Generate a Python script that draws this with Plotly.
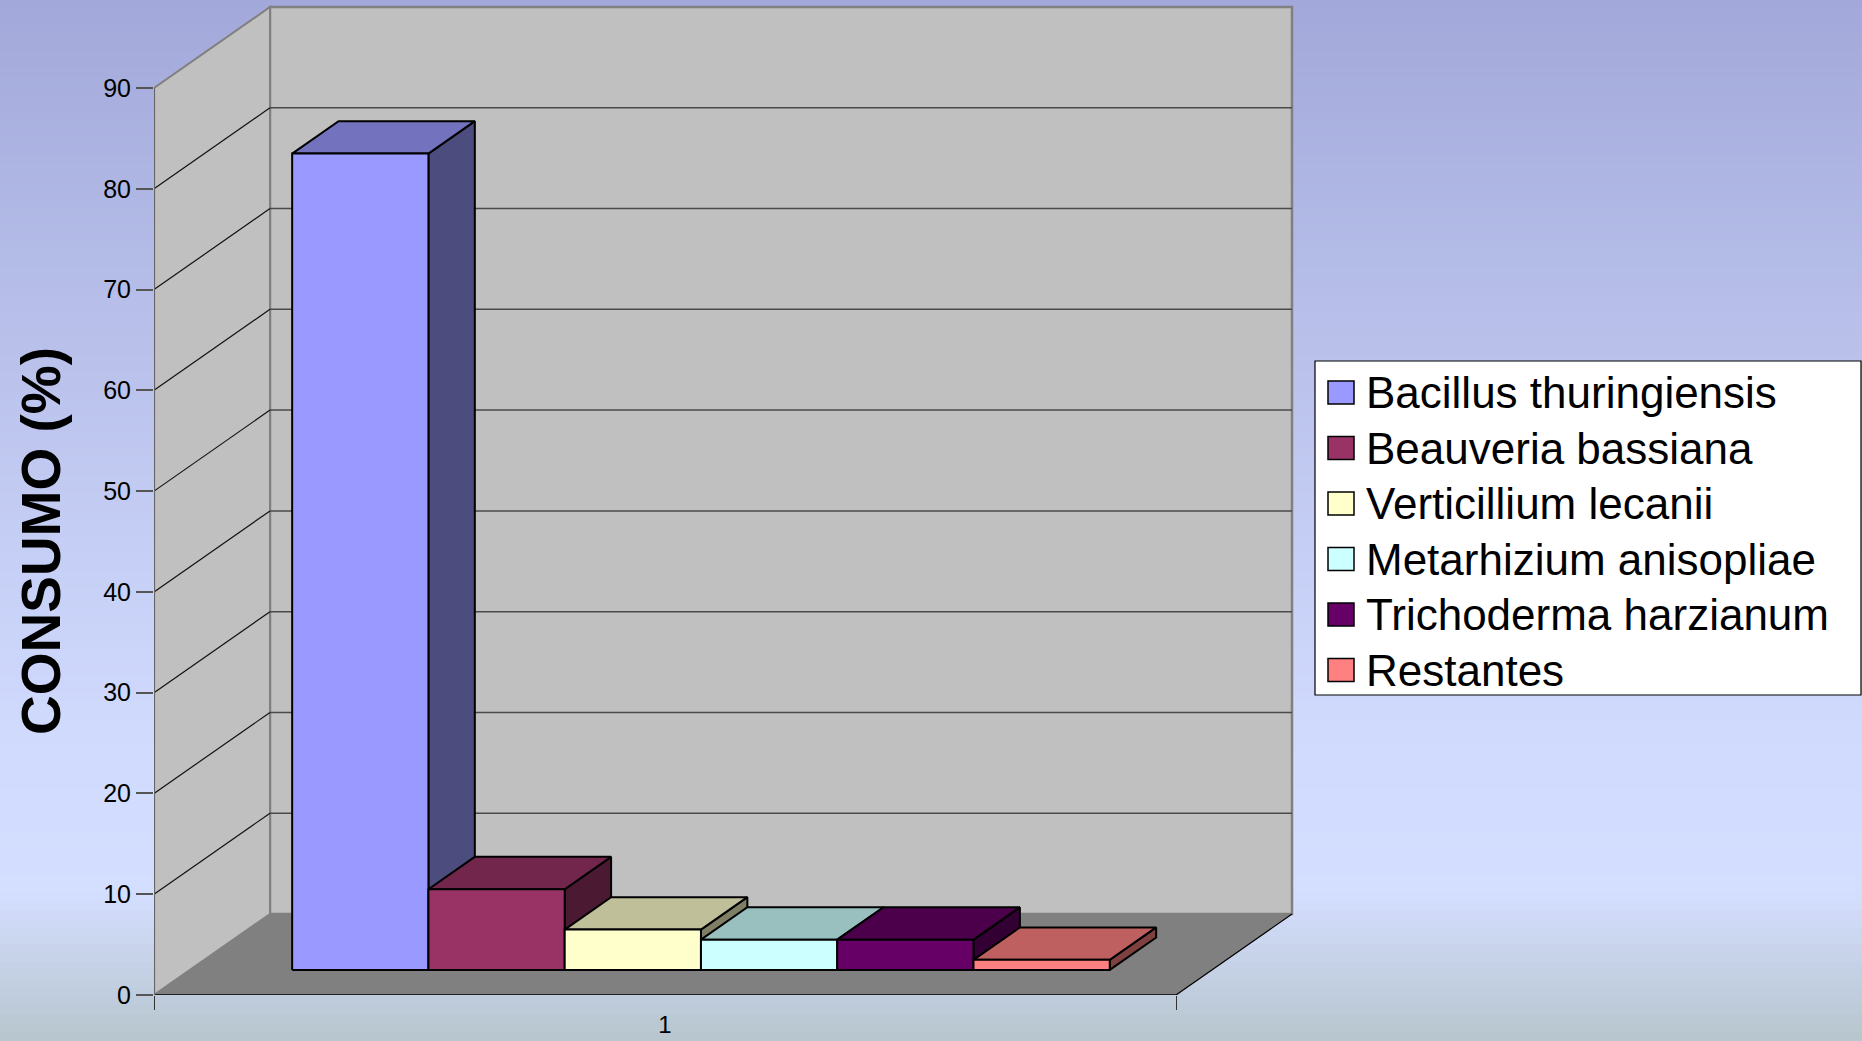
import plotly.graph_objects as go
import numpy as np

# ---------------- data ----------------
categories = ["1"]
series_names = ["Bacillus thuringiensis", "Beauveria bassiana", "Verticillium lecanii",
                "Metarhizium anisopliae", "Trichoderma harzianum", "Restantes"]
series_values = [81, 8, 4, 3, 3, 1]
y_ticks = [0, 10, 20, 30, 40, 50, 60, 70, 80, 90]
y_title = "CONSUMO (%)"

# ---------------- styles ----------------
front_colors = ["#9999FF", "#993366", "#FFFFCC", "#CCFFFF", "#660066", "#FF8080"]


def shade(hexc, f):
    h = hexc.lstrip("#")
    r, g, b = (int(h[i:i + 2], 16) for i in (0, 2, 4))
    return "#%02X%02X%02X" % (int(r * f), int(g * f), int(b * f))


W, H = 1862, 1041
ML, MB = 154, 46
PW, PH = W - ML, H - MB
FRONT_W = 1022.0                      # px width of the category floor
s = (995 - 88) / 90.0                 # px per unit
XMAX = PW / FRONT_W
YMAX = PH / s
DX = 116 / FRONT_W                    # depth shift in x units
DY = 81 / s                           # depth shift in y units
VMAX = y_ticks[-1]


def P(x, v, d):
    return x + d * DX, v + d * DY


def poly(pts):
    xs = [p[0] for p in pts] + [pts[0][0]]
    ys = [p[1] for p in pts] + [pts[0][1]]
    return xs, ys


def path(pts):
    return "M " + " L ".join("%f,%f" % p for p in pts) + " Z"


shapes = []

# background gradient (paper)
stops = [(0.0, (162, 169, 218)), (0.35, (186, 194, 236)), (0.70, (208, 218, 253)),
         (0.86, (212, 222, 255)), (0.93, (197, 209, 230)), (1.0, (183, 198, 206))]
N = 120
x_left = -ML / PW
y_bot = -MB / PH
for k in range(N):
    t = (k + 0.5) / N  # from top
    for j in range(len(stops) - 1):
        if stops[j][0] <= t <= stops[j + 1][0]:
            a, ca = stops[j]
            b, cb = stops[j + 1]
            u = (t - a) / (b - a)
            c = tuple(int(round(ca[i] + (cb[i] - ca[i]) * u)) for i in range(3))
            break
    top = 1 - (1 - y_bot) * k / N
    bot = 1 - (1 - y_bot) * (k + 1) / N
    shapes.append(dict(type="rect", xref="paper", yref="paper", x0=x_left, x1=1.0,
                       y0=bot - 0.001, y1=top + 0.001, fillcolor="rgb(%d,%d,%d)" % c,
                       line=dict(width=0), layer="below"))

# walls and floor
back = [P(0, 0, 1), P(1, 0, 1), P(1, VMAX, 1), P(0, VMAX, 1)]
side = [P(0, 0, 0), P(0, 0, 1), P(0, VMAX, 1), P(0, VMAX, 0)]
floor = [P(0, 0, 0), P(1, 0, 0), P(1, 0, 1), P(0, 0, 1)]
shapes.append(dict(type="path", xref="x", yref="y", path=path(back), fillcolor="#C0C0C0",
                   line=dict(color="#808080", width=2.5), layer="below"))
shapes.append(dict(type="path", xref="x", yref="y", path=path(side), fillcolor="#C0C0C0",
                   line=dict(color="#808080", width=2), layer="below"))
shapes.append(dict(type="path", xref="x", yref="y", path=path(floor), fillcolor="#808080",
                   line=dict(color="#808080", width=1), layer="below"))
for v in y_ticks[1:-1]:
    a, b = P(0, v, 1), P(1, v, 1)
    shapes.append(dict(type="line", xref="x", yref="y", x0=a[0], y0=a[1], x1=b[0], y1=b[1],
                       line=dict(color="#4A4A4A", width=1.5), layer="below"))
    a, b = P(0, v, 0), P(0, v, 1)
    shapes.append(dict(type="line", xref="x", yref="y", x0=a[0], y0=a[1], x1=b[0], y1=b[1],
                       line=dict(color="#111111", width=1.2), layer="below"))
# front floor edge, right floor edge, y axis line
for (a, b, col, w) in [((P(0, 0, 0)), P(1, 0, 0), "#000000", 1.5),
                       (P(1, 0, 0), P(1, 0, 1), "#000000", 1.2),
                       (P(0, 0, 0), P(0, VMAX, 0), "#666666", 2.2)]:
    shapes.append(dict(type="line", xref="x", yref="y", x0=a[0], y0=a[1], x1=b[0], y1=b[1],
                       line=dict(color=col, width=w), layer="below"))

fig = go.Figure()

# 3D bars
n = len(series_values)
GAP = 0.1
BW = (1 - 2 * GAP) / n
D1, D2 = 0.31, 0.71
for i, (name, v, col) in enumerate(zip(series_names, series_values, front_colors)):
    x0 = GAP + i * BW
    x1 = x0 + BW
    faces = [
        ([P(x1, 0, D1), P(x1, 0, D2), P(x1, v, D2), P(x1, v, D1)], shade(col, 0.5)),
        ([P(x0, v, D1), P(x1, v, D1), P(x1, v, D2), P(x0, v, D2)], shade(col, 0.75)),
        ([P(x0, 0, D1), P(x1, 0, D1), P(x1, v, D1), P(x0, v, D1)], col),
    ]
    for pts, fc in faces:
        xs, ys = poly(pts)
        fig.add_trace(go.Scatter(x=xs, y=ys, mode="lines", fill="toself", fillcolor=fc,
                                 line=dict(color="#000000", width=2), name=name,
                                 showlegend=False, hoverinfo="name"))

# manual legend
def px_to_paper(px, py):
    return (px - ML) / PW, (PH - py) / PH

LX0, LY0, LX1, LY1 = 1315, 361, 1861, 695
a = px_to_paper(LX0, LY0)
b = px_to_paper(LX1, LY1)
shapes.append(dict(type="rect", xref="paper", yref="paper", x0=a[0], y0=b[1], x1=b[0], y1=a[1],
                   fillcolor="#FFFFFF", line=dict(color="#000000", width=1.2)))
annotations = []
row0, step = 392.5, 55.5
for i, (name, col) in enumerate(zip(series_names, front_colors)):
    cy = row0 + i * step
    p0 = px_to_paper(1328, cy - 11.5)
    p1 = px_to_paper(1354, cy + 11.5)
    shapes.append(dict(type="rect", xref="paper", yref="paper", x0=p0[0], y0=p1[1], x1=p1[0],
                       y1=p0[1], fillcolor=col, line=dict(color="#000000", width=1.5)))
    t = px_to_paper(1364, cy)
    annotations.append(dict(xref="paper", yref="paper", x=t[0], y=t[1], text=name,
                            xanchor="left", yanchor="middle", showarrow=False,
                            font=dict(family="Liberation Sans, Arial, sans-serif", size=44,
                                      color="#000000")))

# y title
t = px_to_paper(41, 541)
annotations.append(dict(xref="paper", yref="paper", x=t[0], y=t[1], text="<b>%s</b>" % y_title,
                        textangle=-90, xanchor="center", yanchor="middle", showarrow=False,
                        font=dict(family="Liberation Sans, Arial, sans-serif", size=55,
                                  color="#000000")))

fig.update_layout(
    width=W, height=H,
    margin=dict(l=ML, r=0, t=0, b=MB, pad=0, autoexpand=False),
    paper_bgcolor="#C8D0F2", plot_bgcolor="rgba(0,0,0,0)",
    showlegend=False,
    shapes=shapes, annotations=annotations,
    font=dict(family="Liberation Sans, Arial, sans-serif", color="#000000"),
    xaxis=dict(range=[0, XMAX], showgrid=False, zeroline=False, showline=False,
               automargin=False,
               tickmode="array", tickvals=[0.5], ticktext=categories, ticks="",
               ticklabelstandoff=13, tickfont=dict(size=24, color="#000000"),
               minor=dict(tickmode="array", tickvals=[0, 1], ticks="outside", ticklen=14,
                          tickcolor="#333333", tickwidth=1.3),
               fixedrange=True),
    yaxis=dict(range=[0, YMAX], showgrid=False, zeroline=False, showline=False,
               automargin=False,
               tickmode="array", tickvals=y_ticks, ticks="outside", ticklen=17,
               tickcolor="#555555", tickwidth=1.5, tickfont=dict(size=25, color="#000000"),
               fixedrange=True),
)

fig.write_html("out.html")
